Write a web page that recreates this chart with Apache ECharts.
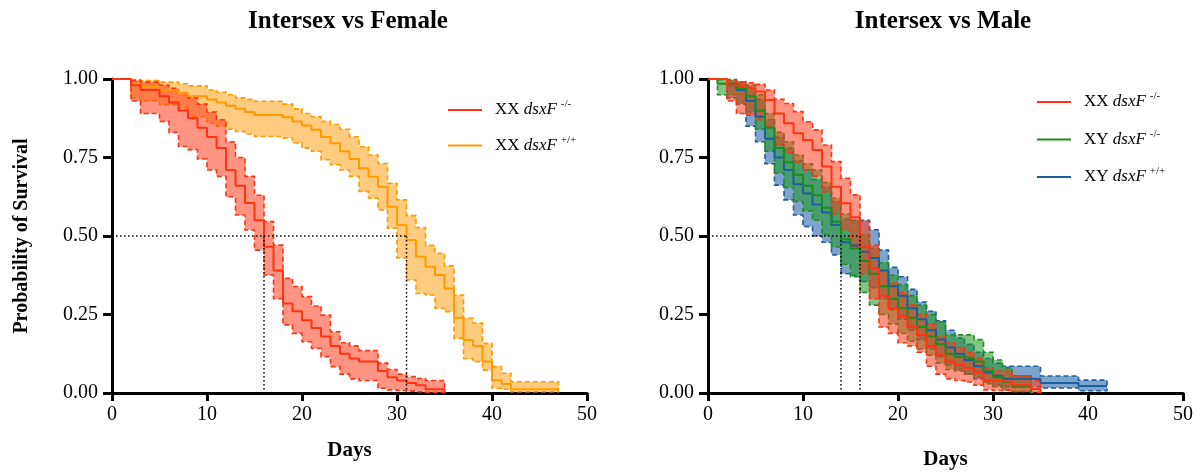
<!DOCTYPE html>
<html>
<head>
<meta charset="utf-8">
<script src="https://cdn.jsdelivr.net/npm/echarts@6/dist/echarts.min.js"></script>
<style>
  html, body { margin: 0; padding: 0; background: #ffffff; }
  #chart { width: 1197px; height: 472px; }
</style>
</head>
<body>
<div id="chart"></div>
<script>
// Kaplan–Meier survival (step estimate) with 95% confidence limits.

// ---- Intersex vs Female ----
// XX dsxF -/-
const ffDays = [0, 2, 3, 5, 6, 7, 8, 9, 10, 11, 12, 13, 14, 15, 16, 17, 18, 19, 20, 21, 22, 23, 24, 25, 26, 28, 29, 30, 31, 32, 33, 35];
const ffSurv = [1, 0.98, 0.965, 0.945, 0.925, 0.90, 0.875, 0.845, 0.815, 0.78, 0.71, 0.66, 0.605, 0.55, 0.466, 0.39, 0.285, 0.26, 0.232, 0.207, 0.18, 0.15, 0.125, 0.11, 0.10, 0.07, 0.05, 0.04, 0.032, 0.025, 0.012, 0];
const ffLow  = [1, 0.93, 0.89, 0.865, 0.83, 0.785, 0.775, 0.745, 0.71, 0.69, 0.625, 0.567, 0.519, 0.455, 0.376, 0.30, 0.217, 0.19, 0.163, 0.142, 0.116, 0.084, 0.06, 0.045, 0.04, 0.015, 0.01, 0.008, 0.006, 0.004, 0.002, 0];
const ffHigh = [1, 0.995, 0.99, 0.98, 0.97, 0.955, 0.94, 0.92, 0.895, 0.87, 0.80, 0.75, 0.69, 0.63, 0.546, 0.471, 0.365, 0.339, 0.307, 0.277, 0.248, 0.195, 0.16, 0.15, 0.135, 0.095, 0.075, 0.06, 0.052, 0.046, 0.04, 0];

// XX dsxF +/+
const fwDays = [0, 2, 3, 5, 7, 8, 10, 11, 12, 13, 14, 15, 18, 19, 20, 21, 22, 23, 24, 25, 26, 27, 28, 29, 30, 31, 32, 33, 34, 35, 36, 37, 38, 39, 40, 41, 42, 47];
const fwSurv = [1, 0.985, 0.975, 0.965, 0.955, 0.945, 0.935, 0.925, 0.915, 0.905, 0.895, 0.885, 0.878, 0.865, 0.852, 0.838, 0.815, 0.795, 0.77, 0.745, 0.716, 0.689, 0.657, 0.593, 0.535, 0.487, 0.434, 0.402, 0.376, 0.333, 0.24, 0.169, 0.15, 0.10, 0.041, 0.029, 0.012, 0.012];
const fwLow  = [1, 0.94, 0.93, 0.918, 0.907, 0.88, 0.86, 0.85, 0.84, 0.833, 0.825, 0.817, 0.812, 0.796, 0.78, 0.77, 0.743, 0.727, 0.71, 0.69, 0.642, 0.62, 0.583, 0.525, 0.43, 0.36, 0.317, 0.312, 0.27, 0.259, 0.174, 0.11, 0.10, 0.073, 0.015, 0.012, 0.004, 0.004];
const fwHigh = [1, 0.998, 0.995, 0.99, 0.985, 0.978, 0.965, 0.958, 0.95, 0.94, 0.935, 0.929, 0.92, 0.905, 0.89, 0.88, 0.865, 0.855, 0.84, 0.816, 0.784, 0.758, 0.731, 0.668, 0.615, 0.565, 0.527, 0.47, 0.445, 0.405, 0.312, 0.238, 0.223, 0.158, 0.084, 0.063, 0.036, 0.036];

const femaleMedians = [16, 31];

// ---- Intersex vs Male ----
// XX dsxF -/-
const mxDays = [0, 2, 3, 4, 5, 6, 7, 8, 9, 10, 11, 12, 13, 14, 15, 16, 17, 18, 19, 20, 21, 22, 23, 24, 25, 26, 27, 28, 29, 30, 32, 34, 35];
const mxSurv = [1, 0.98, 0.975, 0.97, 0.96, 0.933, 0.89, 0.859, 0.827, 0.806, 0.774, 0.721, 0.657, 0.604, 0.56, 0.466, 0.397, 0.31, 0.27, 0.245, 0.211, 0.185, 0.15, 0.12, 0.10, 0.09, 0.08, 0.065, 0.041, 0.035, 0.025, 0.013, 0];
const mxLow  = [1, 0.93, 0.89, 0.885, 0.87, 0.85, 0.79, 0.765, 0.736, 0.71, 0.69, 0.64, 0.57, 0.52, 0.465, 0.38, 0.30, 0.21, 0.19, 0.16, 0.15, 0.13, 0.085, 0.06, 0.045, 0.04, 0.035, 0.025, 0.01, 0.008, 0.005, 0.002, 0];
const mxHigh = [1, 0.995, 0.99, 0.988, 0.983, 0.965, 0.935, 0.922, 0.896, 0.864, 0.838, 0.79, 0.737, 0.684, 0.631, 0.546, 0.47, 0.39, 0.35, 0.32, 0.28, 0.25, 0.22, 0.18, 0.16, 0.145, 0.13, 0.11, 0.08, 0.07, 0.055, 0.04, 0];

// XY dsxF -/-
const myDays = [0, 1, 3, 4, 5, 6, 7, 8, 9, 10, 11, 12, 13, 14, 15, 16, 17, 18, 19, 20, 21, 22, 23, 24, 25, 26, 27, 28, 29, 30, 31, 32, 34];
const mySurv = [1, 0.985, 0.97, 0.945, 0.90, 0.845, 0.78, 0.735, 0.695, 0.66, 0.63, 0.59, 0.545, 0.49, 0.46, 0.42, 0.38, 0.34, 0.30, 0.27, 0.24, 0.21, 0.18, 0.155, 0.125, 0.115, 0.11, 0.10, 0.07, 0.05, 0.035, 0.02, 0];
const myLow  = [1, 0.95, 0.925, 0.895, 0.84, 0.77, 0.70, 0.655, 0.61, 0.58, 0.55, 0.505, 0.465, 0.41, 0.37, 0.32, 0.28, 0.25, 0.22, 0.19, 0.165, 0.14, 0.12, 0.095, 0.075, 0.07, 0.06, 0.05, 0.03, 0.02, 0.01, 0.005, 0];
const myHigh = [1, 0.998, 0.99, 0.98, 0.95, 0.89, 0.83, 0.80, 0.758, 0.73, 0.71, 0.67, 0.62, 0.57, 0.55, 0.505, 0.46, 0.415, 0.375, 0.345, 0.31, 0.28, 0.25, 0.227, 0.185, 0.185, 0.185, 0.17, 0.13, 0.105, 0.08, 0.055, 0];

// XY dsxF +/+
const mwDays = [0, 2, 3, 4, 5, 6, 7, 8, 9, 10, 11, 12, 13, 14, 15, 16, 17, 18, 19, 20, 21, 22, 23, 24, 25, 26, 27, 28, 29, 30, 31, 35, 39, 42];
const mwSurv = [1, 0.98, 0.965, 0.93, 0.88, 0.81, 0.75, 0.71, 0.665, 0.635, 0.60, 0.575, 0.535, 0.48, 0.47, 0.45, 0.43, 0.39, 0.34, 0.31, 0.27, 0.235, 0.20, 0.17, 0.145, 0.125, 0.105, 0.085, 0.065, 0.055, 0.045, 0.032, 0.022, 0.022];
const mwLow  = [1, 0.94, 0.92, 0.85, 0.80, 0.73, 0.662, 0.615, 0.567, 0.53, 0.50, 0.48, 0.44, 0.38, 0.375, 0.355, 0.335, 0.30, 0.265, 0.235, 0.20, 0.17, 0.14, 0.115, 0.09, 0.075, 0.06, 0.045, 0.035, 0.025, 0.02, 0.016, 0.007, 0.007];
const mwHigh = [1, 0.995, 0.99, 0.97, 0.935, 0.87, 0.815, 0.78, 0.74, 0.71, 0.68, 0.655, 0.61, 0.555, 0.55, 0.55, 0.52, 0.455, 0.40, 0.37, 0.33, 0.29, 0.26, 0.23, 0.20, 0.175, 0.155, 0.13, 0.11, 0.095, 0.085, 0.054, 0.041, 0.041];

const maleMedians = [14, 16];

const xTicks = { min: 0, max: 50, interval: 10 };
const yTicks = { min: 0, max: 1, interval: 0.25 };

// ---- styling ----
const SERIF = '"Liberation Serif", "DejaVu Serif", serif';
const RED = '#ff3311', ORANGE = '#ff9a00', GREEN = '#1e8c1e', BLUE = '#1a5fa0';
const FILL = {
  [RED]: 'rgba(255,60,30,0.55)',
  [ORANGE]: 'rgba(255,160,20,0.55)',
  [GREEN]: 'rgba(30,150,30,0.55)',
  [BLUE]: 'rgba(20,90,160,0.55)'
};

function pairs(xs, ys) { return xs.map((x, i) => [x, ys[i]]); }

// step-shaped confidence band as one polygon (upper edge forward, lower edge back)
function bandOutline(days, low, high) {
  let start = 0;
  while (start < days.length - 1 && high[start] - low[start] <= 0) start++;
  const top = [], bottom = [];
  for (let i = start; i < days.length - 1; i++) {
    top.push([days[i], high[i]], [days[i + 1], high[i]]);
    bottom.push([days[i], low[i]], [days[i + 1], low[i]]);
  }
  return top.concat(bottom.reverse());
}

// one survival curve: dashed-outline confidence band plus solid step estimate
function kmCurve(name, color, gi, days, surv, low, high) {
  const outline = bandOutline(days, low, high);
  return [
    {
      type: 'custom', name: name + ' 95% CI', xAxisIndex: gi, yAxisIndex: gi,
      silent: true, animation: false, z: 2,
      data: days.map((d, i) => [d, low[i], high[i]]),
      encode: { x: 0, y: [1, 2] },
      renderItem: function (params, api) {
        if (params.dataIndex !== 0) return null;
        return {
          type: 'polygon',
          shape: { points: outline.map(p => api.coord(p)) },
          style: { fill: FILL[color], stroke: color, lineWidth: 1.6, lineDash: [5, 3] }
        };
      }
    },
    {
      type: 'line', name: name, xAxisIndex: gi, yAxisIndex: gi, step: 'end',
      symbol: 'none', silent: true, animation: false, z: 4, color: color,
      data: pairs(days, surv),
      lineStyle: { color: color, width: 2 }
    }
  ];
}

// dotted median guides: across at 0.5, then down to the axis at each median
function medianGuides(gi, medians) {
  const style = { color: '#000', width: 1.5, type: [1.5, 2.5] };
  const out = [{
    type: 'line', xAxisIndex: gi, yAxisIndex: gi, symbol: 'none', silent: true, z: 5,
    data: [[0, 0.5], [Math.max(...medians), 0.5]], lineStyle: style
  }];
  medians.forEach(m => out.push({
    type: 'line', xAxisIndex: gi, yAxisIndex: gi, symbol: 'none', silent: true, z: 5,
    data: [[m, 0.5], [m, 0]], lineStyle: style
  }));
  return out;
}

function xAxis(gi, gap) {
  return {
    type: 'value', gridIndex: gi, min: xTicks.min, max: xTicks.max, interval: xTicks.interval,
    name: 'Days', nameLocation: 'middle', nameGap: gap,
    nameTextStyle: { fontFamily: SERIF, fontWeight: 'bold', fontSize: 21, color: '#000' },
    axisLine: { onZero: false, lineStyle: { color: '#000', width: 3 } },
    axisTick: { length: 8, lineStyle: { color: '#000', width: 3 } },
    axisLabel: { margin: 12, fontFamily: SERIF, fontSize: 20, color: '#000' },
    splitLine: { show: false }
  };
}

function yAxis(gi, withName) {
  return {
    type: 'value', gridIndex: gi, min: yTicks.min, max: yTicks.max, interval: yTicks.interval,
    name: withName ? 'Probability of Survival' : '', nameLocation: 'middle', nameGap: 80,
    nameTextStyle: { fontFamily: SERIF, fontWeight: 'bold', fontSize: 20, color: '#000' },
    axisLine: { onZero: false, lineStyle: { color: '#000', width: 3 } },
    axisTick: { length: 9, lineStyle: { color: '#000', width: 3 } },
    axisLabel: { margin: 14, fontFamily: SERIF, fontSize: 20, color: '#000', formatter: v => v.toFixed(2) },
    splitLine: { show: false }
  };
}

const legendRich = {
  n: { fontFamily: SERIF, fontSize: 17, color: '#000', lineHeight: 22, padding: [0, 0, 0, 8] },
  i: { fontFamily: SERIF, fontSize: 17, color: '#000', fontStyle: 'italic', lineHeight: 22 },
  s: { fontFamily: SERIF, fontSize: 11, color: '#000', lineHeight: 12, verticalAlign: 'top', padding: [0, 0, 0, 4] }
};
const legendLabel = {
  'XX dsxF-/-': '{n|XX }{i|dsxF}{s|-/-}',
  'XX dsxF+/+': '{n|XX }{i|dsxF}{s|+/+}',
  'XY dsxF-/-': '{n|XY }{i|dsxF}{s|-/-}',
  'XY dsxF+/+': '{n|XY }{i|dsxF}{s|+/+}'
};
function legend(left, top, names, gap) {
  return {
    orient: 'vertical', left: left, top: top, itemGap: gap,
    itemWidth: 34, itemHeight: 2.5, icon: 'path://M0,0H34V2H0Z',
    selectedMode: false, data: names,
    formatter: n => legendLabel[n],
    textStyle: { rich: legendRich }
  };
}

const series = [].concat(
  kmCurve('XX dsxF+/+', ORANGE, 0, fwDays, fwSurv, fwLow, fwHigh),
  kmCurve('XX dsxF-/-', RED, 0, ffDays, ffSurv, ffLow, ffHigh),
  medianGuides(0, femaleMedians),
  kmCurve('XY dsxF+/+', BLUE, 1, mwDays, mwSurv, mwLow, mwHigh),
  kmCurve('XY dsxF-/-', GREEN, 1, myDays, mySurv, myLow, myHigh),
  kmCurve('XX dsxF-/-', RED, 1, mxDays, mxSurv, mxLow, mxHigh),
  medianGuides(1, maleMedians)
);

const chart = echarts.init(document.getElementById('chart'), null, { renderer: 'canvas' });
chart.setOption({
  animation: false,
  backgroundColor: '#ffffff',
  grid: [
    { left: 112, top: 79, width: 475, height: 314, outerBoundsMode: 'none', containLabel: false },
    { left: 708, top: 79, width: 475, height: 314, outerBoundsMode: 'none', containLabel: false }
  ],
  xAxis: [xAxis(0, 47), xAxis(1, 56)],
  yAxis: [yAxis(0, true), yAxis(1, false)],
  legend: [
    legend(443, 94, ['XX dsxF-/-', 'XX dsxF+/+'], 16),
    legend(1032, 86, ['XX dsxF-/-', 'XY dsxF-/-', 'XY dsxF+/+'], 18)
  ],
  graphic: [
    { type: 'text', x: 348, y: 22, style: { text: 'Intersex vs Female', font: 'bold 25px ' + SERIF, fill: '#000', align: 'center', verticalAlign: 'middle', textAlign: 'center', textVerticalAlign: 'middle' } },
    { type: 'text', x: 943, y: 22, style: { text: 'Intersex vs Male', font: 'bold 25px ' + SERIF, fill: '#000', align: 'center', verticalAlign: 'middle', textAlign: 'center', textVerticalAlign: 'middle' } }
  ],
  series: series
});
</script>
</body>
</html>
